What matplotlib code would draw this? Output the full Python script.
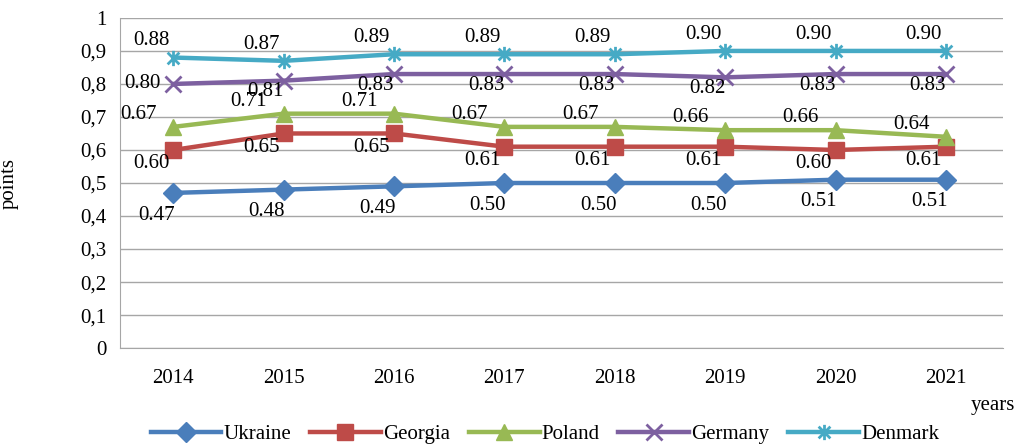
import matplotlib.pyplot as plt
import numpy as np
from matplotlib.path import Path

years = ['2014', '2015', '2016', '2017', '2018', '2019', '2020', '2021']
ukraine = [0.47, 0.48, 0.49, 0.50, 0.50, 0.50, 0.51, 0.51]
georgia = [0.60, 0.65, 0.65, 0.61, 0.61, 0.61, 0.60, 0.61]
poland = [0.67, 0.71, 0.71, 0.67, 0.67, 0.66, 0.66, 0.64]
germany = [0.80, 0.81, 0.83, 0.83, 0.83, 0.82, 0.83, 0.83]
denmark = [0.88, 0.87, 0.89, 0.89, 0.89, 0.90, 0.90, 0.90]
y_ticks = [0, 0.1, 0.2, 0.3, 0.4, 0.5, 0.6, 0.7, 0.8, 0.9, 1]

plt.rcParams['font.family'] = ['Liberation Serif', 'DejaVu Serif']

# excel style "star" marker: an x with a vertical bar through it
star = Path([(-1, -1), (1, 1), (-1, 1), (1, -1), (0, -1.3), (0, 1.3)],
            [Path.MOVETO, Path.LINETO, Path.MOVETO, Path.LINETO, Path.MOVETO, Path.LINETO])

# name, values, colour, marker, marker size, label offset (points)
series = [
    ('Ukraine', ukraine, '#4A7EBB', 'D', 10, (-12, -16)),
    ('Georgia', georgia, '#BE4B48', 's', 11, (-16, -10)),
    ('Poland', poland, '#98B954', '^', 11, (-25, 9)),
    ('Germany', germany, '#7D60A0', 'x', 11, (-13, -8)),
    ('Denmark', denmark, '#46AAC5', star, 11, (-16, 12)),
]

fig = plt.figure(figsize=(10.28, 4.48), dpi=100)
ax = fig.add_axes([0.117, 0.223, 0.859, 0.737])

x = np.arange(len(years))
for name, vals, color, marker, ms, off in series:
    filled = marker in ('D', 's', '^')
    ax.plot(x, vals, color=color, lw=3.2, marker=marker, ms=ms,
            mew=1.0 if filled else 2.0, mec=color, mfc=color, label=name,
            zorder=3)
    for i, v in enumerate(vals):
        dx, dy = off
        if name == 'Germany' and i == 0:
            dx, dy = -22, 0
        ax.annotate('%.2f' % v, (x[i], v), xytext=(dx, dy), textcoords='offset points',
                    ha='center', va='center', fontsize=15, zorder=4)

ax.set_xlim(-0.48, 7.52)
ax.set_ylim(0, 1)
ax.set_xticks(x)
ax.set_xticklabels(years, fontsize=15)
ax.set_yticks(y_ticks)
ax.set_yticklabels([('%g' % t).replace('.', ',') for t in y_ticks], fontsize=15)
ax.tick_params(axis='x', length=0, pad=15)
ax.tick_params(axis='y', length=0, pad=10)
ax.grid(axis='y', color='#A6A6A6', lw=1.0)
ax.set_axisbelow(True)
for s in ['top', 'right']:
    ax.spines[s].set_visible(False)
ax.spines['left'].set_color('#A6A6A6')
ax.spines['bottom'].set_color('#A6A6A6')

ax.set_ylabel('points', fontsize=15)
ax.yaxis.set_label_coords(-0.115, 0.5)
fig.text(0.966, 0.095, 'years', fontsize=15, ha='center', va='center')

fig.legend(loc='center', bbox_to_anchor=(0.53, 0.03), ncol=5, frameon=False,
           fontsize=15, handlelength=3.4, columnspacing=0.9, handletextpad=0.1)

fig.savefig('out.png', dpi=100)
